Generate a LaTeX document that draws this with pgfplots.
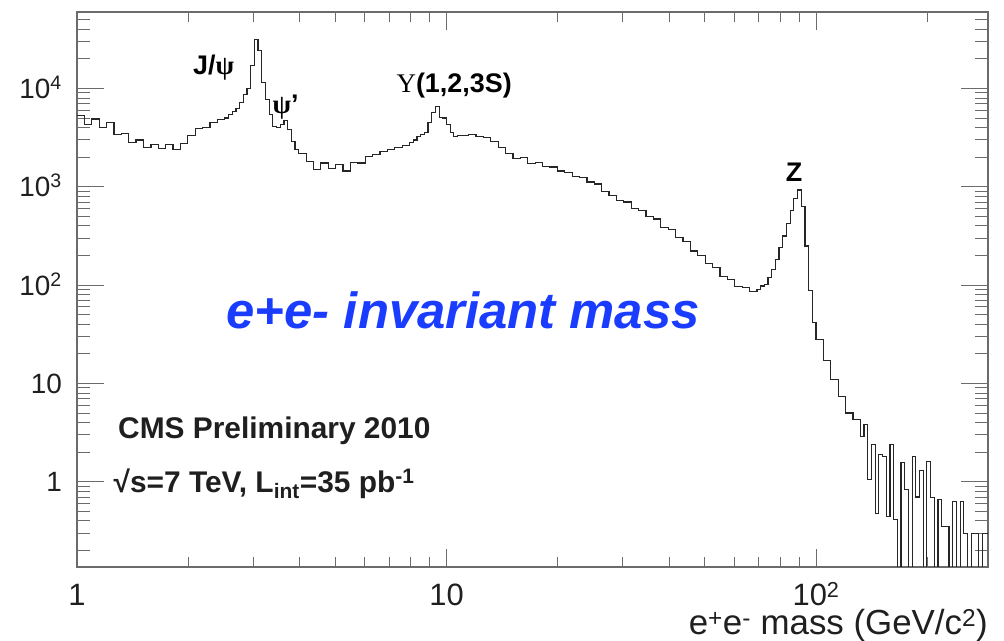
\documentclass[border=0pt]{standalone}
\usepackage{fontspec}
\setmainfont{Liberation Sans}
\newfontfamily\symfont{Liberation Serif}
\usepackage{pgfplots}
\pgfplotsset{compat=1.18}
\definecolor{framegray}{gray}{0.42}
\definecolor{labelblue}{RGB}{25,60,255}
\begin{document}
\begin{tikzpicture}[x=1bp,y=1bp]
\path[use as bounding box] (-77,-74) rectangle (927,567);
\begin{axis}[
  at={(0,0)}, anchor=south west,
  width=911bp, height=555bp, scale only axis,
  xmode=log, ymode=log,
  xmin=1, xmax=292, ymin=0.136, ymax=6e4,
  xtick={1,10,100}, xticklabels={1,10,10\textsuperscript{2}},
  ytick={1,10,100,1000,10000},
  yticklabels={1,10,10\textsuperscript{2},10\textsuperscript{3},10\textsuperscript{4}},
  minor xtick={2,3,4,5,6,7,8,9,20,30,40,50,60,70,80,90,200},
  minor ytick={0.2,0.3,0.4,0.5,0.6,0.7,0.8,0.9,2,3,4,5,6,7,8,9,20,30,40,50,60,70,80,90,200,300,400,500,600,700,800,900,2000,3000,4000,5000,6000,7000,8000,9000,20000,30000,40000,50000},
  tick align=inside,
  tick style={framegray, line width=1bp},
  major tick length=18bp, minor tick length=10bp,
  ytick style={/pgfplots/major tick length=27bp,/pgfplots/minor tick length=13bp},
  axis line style={framegray, line width=1.6bp},
  xticklabel style={font=\fontsize{31}{31}\selectfont, text=black!88, anchor=base, inner sep=0pt, yshift=-39bp},
  yticklabel style={font=\fontsize{28}{28}\selectfont, text=black!88, anchor=base east, inner sep=0pt, xshift=-15bp, yshift=-10bp},
]
\addplot[const plot, black!85, line width=1.2bp] coordinates {
(1.000,5300) (1.047,4300) (1.096,4900) (1.148,4000) (1.202,4500)
(1.259,3400) (1.318,3500) (1.380,2800) (1.445,3000) (1.514,2500)
(1.585,2700) (1.660,2450) (1.738,2700) (1.820,2400) (1.905,2750)
(1.995,3300) (2.089,3900) (2.188,4000) (2.291,4500) (2.399,4800)
(2.512,5000) (2.570,5400) (2.630,5800) (2.692,6300) (2.754,7200)
(2.818,8700) (2.884,10000) (2.951,17000) (3.020,31500) (3.090,24500)
(3.162,11500) (3.236,7700) (3.311,5400) (3.388,4100) (3.467,4000)
(3.548,4300) (3.631,4700) (3.715,3800) (3.802,2900) (3.890,2400)
(3.981,2200) (4.169,1800) (4.365,1500) (4.571,1750) (4.786,1550)
(5.012,1700) (5.248,1450) (5.495,1780) (5.754,1750) (6.026,2050)
(6.310,2140) (6.607,2300) (6.918,2400) (7.244,2500) (7.586,2650)
(7.943,2800) (8.128,3000) (8.318,3240) (8.511,3390) (8.710,3550)
(8.913,4470) (9.120,5750) (9.333,6600) (9.550,5100) (9.772,5000)
(10.00,4270) (10.23,3550) (10.47,3240) (10.72,3300)
(10.96,3300) (11.48,3390) (12.02,3240)
(12.59,3160) (13.18,2880) (13.80,2510) (14.45,2190) (15.14,1950)
(15.85,2000) (16.60,1720) (17.38,1780) (18.20,1620) (19.05,1590)
(19.95,1450) (20.89,1400) (21.88,1270) (22.91,1250) (23.99,1120)
(25.12,1070) (26.30,900) (27.54,820) (28.84,720) (30.20,700)
(31.62,600) (33.11,570) (34.67,495) (36.31,470) (38.02,385)
(39.81,365) (41.69,305) (43.65,278) (45.71,222) (47.86,200)
(50.12,165) (52.48,152) (54.95,122) (57.54,115) (60.26,97)
(63.10,95) (66.07,86)
(69.18,91) (70.79,98) (72.44,102) (74.13,120) (75.86,145)
(77.62,182) (79.43,240) (81.28,316) (83.18,427) (85.11,575)
(87.10,760) (89.13,930) (91.20,630) (93.33,250) (95.50,89) (97.72,42)
(100.0,28) (104.7,17) (109.6,11) (114.8,7.4) (120.2,5.0)
(125.9,4.3) (131.8,2.9) (134.9,3.8) (138.0,1.05) (141.3,2.4)
(144.5,0.48) (147.9,1.9) (151.4,1.8) (154.9,0.44) (158.5,2.4)
(162.2,0.41) (166.0,0.01) (169.8,1.56) (173.8,0.83) (177.8,0.01)
(182.0,1.8) (186.2,0.7) (190.5,1.3) (195.0,0.01) (199.5,1.6)
(204.2,0.69) (208.9,0.01) (213.8,0.66) (218.8,0.35) (223.9,0.35)
(229.1,0.01) (234.4,0.63) (239.9,0.01) (245.5,0.63) (251.2,0.3)
(257.0,0.01) (263.0,0.3) (269.2,0.3) (275.4,0.01) (281.8,0.3)
(288.4,0.3) (295.1,0.3)
};
\node[font=\fontsize{27}{27}\selectfont\bfseries] at (rel axis cs:0.150,0.899) {J/{\symfont ψ}};
\node[font=\fontsize{27}{27}\selectfont\bfseries] at (rel axis cs:0.229,0.829) {{\symfont ψ}'};
\node[font=\fontsize{27}{27}\selectfont\bfseries] at (rel axis cs:0.414,0.867) {{\symfont\mdseries Υ}(1,2,3S)};
\node[font=\fontsize{27}{27}\selectfont\bfseries] at (rel axis cs:0.787,0.712) {Z};
\node[font=\fontsize{51}{51}\selectfont\bfseries\itshape, text=labelblue] at (rel axis cs:0.424,0.462) {e+e- invariant mass};
\node[font=\fontsize{30}{30}\selectfont\bfseries, anchor=base west, inner sep=0pt, text=black!88] at (rel axis cs:0.045,0.232) {CMS Preliminary 2010};
\node[font=\fontsize{30}{30}\selectfont\bfseries, anchor=base west, inner sep=0pt, text=black!88] at (rel axis cs:0.040,0.135) {√s=7 TeV, L\textsubscript{int}=35 pb\textsuperscript{-1}};
\end{axis}
\node[font=\fontsize{35}{35}\selectfont, anchor=base east, inner sep=0pt, text=black!88] at (911,-68) {e\textsuperscript{+}e\textsuperscript{-} mass (GeV/c\textsuperscript{2})};
\end{tikzpicture}
\end{document}
